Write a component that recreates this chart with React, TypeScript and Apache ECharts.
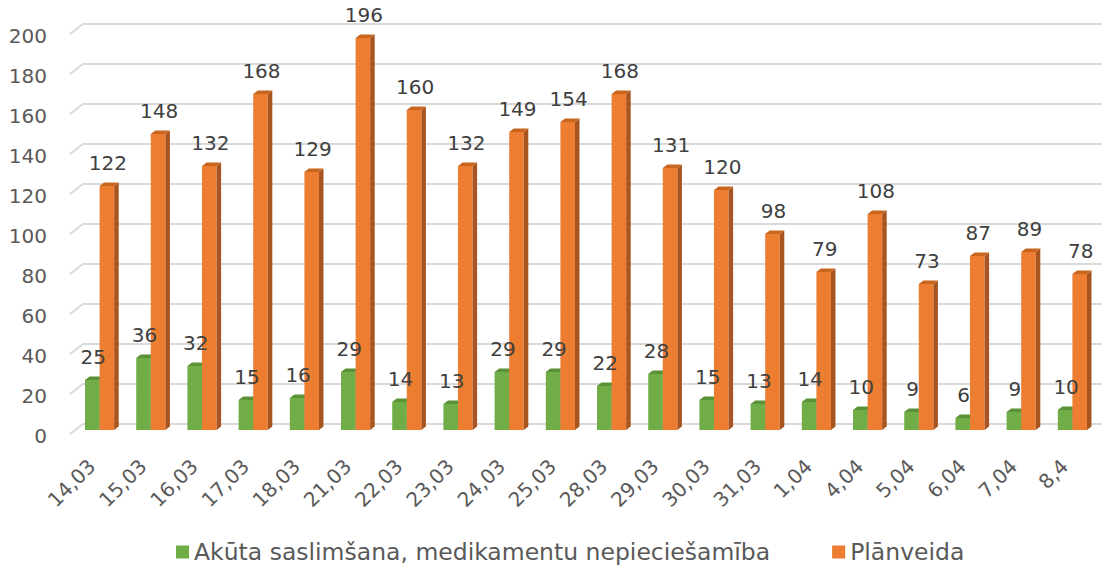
import React, { useEffect, useRef } from "react";
import * as echarts from "echarts";

const categories = ["14,03","15,03","16,03","17,03","18,03","21,03","22,03","23,03","24,03","25,03","28,03","29,03","30,03","31,03","1,04","4,04","5,04","6,04","7,04","8,4"];
const acuteValues = [25,36,32,15,16,29,14,13,29,29,22,28,15,13,14,10,9,6,9,10];
const plannedValues = [122,148,132,168,129,196,160,132,149,154,168,131,120,98,79,108,73,87,89,78];
const yTicks = [0,20,40,60,80,100,120,140,160,180,200];
const seriesNames = ["Akūta saslimšana, medikamentu nepieciešamība", "Plānveida"];

const FONT = "DejaVu Sans";
const BAR_FRAC = 0.285;

function barGeom(side: "left" | "right", api: any) {
  const i = api.value(0);
  const v = api.value(1);
  const top = api.coord([i, v]);
  const base = api.coord([i, 0]);
  const band = api.size([1, 0])[0];
  const w = band * BAR_FRAC;
  const x0 = side === "left" ? top[0] - w : top[0];
  return { v, x0, w, yT: top[1], y0: base[1] };
}

function barRenderer(side: "left" | "right", front: string, sideC: string, topC: string) {
  return (params: any, api: any) => {
    const { x0, w, yT, y0 } = barGeom(side, api);
    const dx = 4.5, dy = 3.5;
    return {
      type: "group",
      children: [
        { type: "rect", shape: { x: x0, y: yT, width: w, height: y0 - yT }, style: { fill: front } },
        { type: "polygon", shape: { points: [[x0 + w, yT], [x0 + w + dx, yT - dy], [x0 + w + dx, y0 - dy], [x0 + w, y0]] }, style: { fill: sideC } },
        { type: "polygon", shape: { points: [[x0, yT], [x0 + dx, yT - dy], [x0 + w + dx, yT - dy], [x0 + w, yT]] }, style: { fill: topC } },
      ],
    };
  };
}

function labelRenderer(side: "left" | "right") {
  return (params: any, api: any) => {
    const { v, x0, w, yT } = barGeom(side, api);
    return {
      type: "text",
      style: { text: String(v), x: x0 + w / 2 + 1, y: yT - 23, align: "center", verticalAlign: "middle", fontSize: 20, fontFamily: FONT, fill: "#404040" },
    };
  };
}

export default function App() {
  const ref = useRef<HTMLDivElement>(null);
  useEffect(() => {
    document.body.style.margin = "0";
    const chart = echarts.init(ref.current!, null, { renderer: "svg" });
    chart.setOption({
      animation: false,
      backgroundColor: "#ffffff",
      grid: { left: 74, right: 4, top: 30, bottom: 137 },
      legend: {
        left: 171,
        top: 535,
        itemWidth: 13,
        itemHeight: 13,
        itemGap: 62,
        textStyle: { fontSize: 23.5, fontFamily: FONT, color: "#595959" },
        data: [
          { name: seriesNames[0], icon: "rect", itemStyle: { color: "#70AD47" } },
          { name: seriesNames[1], icon: "rect", itemStyle: { color: "#ED7D31" } },
        ],
      },
      xAxis: {
        type: "category",
        data: categories,
        axisLine: { show: false },
        axisTick: { show: false },
        splitLine: { show: false },
        axisLabel: { rotate: 45, margin: 25, padding: [0, 11, 0, 0], fontSize: 20, fontFamily: FONT, color: "#595959", interval: 0 },
      },
      yAxis: {
        type: "value",
        min: 0,
        max: 200,
        interval: 20,
        axisLine: { show: false },
        axisTick: { show: false },
        splitLine: { show: false },
        axisLabel: { show: false },
      },
      series: [
        {
          type: "custom",
          name: "grid3d",
          silent: true,
          z: 1,
          data: yTicks.map((t) => [0, t]),
          renderItem: (params: any, api: any) => {
            const t = api.value(1);
            const y = api.coord([0, t])[1];
            const cs = params.coordSys;
            return {
              type: "group",
              children: [
                {
                  type: "polyline",
                  shape: { points: [[cs.x - 4, y + 4], [cs.x + 9, y - 6], [cs.x + cs.width + 4, y - 6]] },
                  style: { stroke: "#D9D9D9", lineWidth: 2, fill: "none" },
                },
                {
                  type: "text",
                  style: { text: String(t), x: cs.x - 27, y: y + 6, align: "right", verticalAlign: "middle", fontSize: 20, fontFamily: FONT, fill: "#595959" },
                },
              ],
            };
          },
        },
        {
          type: "custom",
          name: seriesNames[0],
          z: 2,
          itemStyle: { color: "#70AD47" },
          data: acuteValues.map((v, i) => [i, v]),
          renderItem: barRenderer("left", "#70AD47", "#4F7E31", "#5A9238"),
        },
        {
          type: "custom",
          name: seriesNames[1],
          z: 2,
          itemStyle: { color: "#ED7D31" },
          data: plannedValues.map((v, i) => [i, v]),
          renderItem: barRenderer("right", "#ED7D31", "#A85420", "#C8661F"),
        },
        {
          type: "custom",
          name: "labelsA",
          z: 3,
          silent: true,
          data: acuteValues.map((v, i) => [i, v]),
          renderItem: labelRenderer("left"),
        },
        {
          type: "custom",
          name: "labelsB",
          z: 3,
          silent: true,
          data: plannedValues.map((v, i) => [i, v]),
          renderItem: labelRenderer("right"),
        },
      ],
    });
    return () => chart.dispose();
  }, []);
  return <div ref={ref} style={{ width: 1102, height: 567 }} />;
}
